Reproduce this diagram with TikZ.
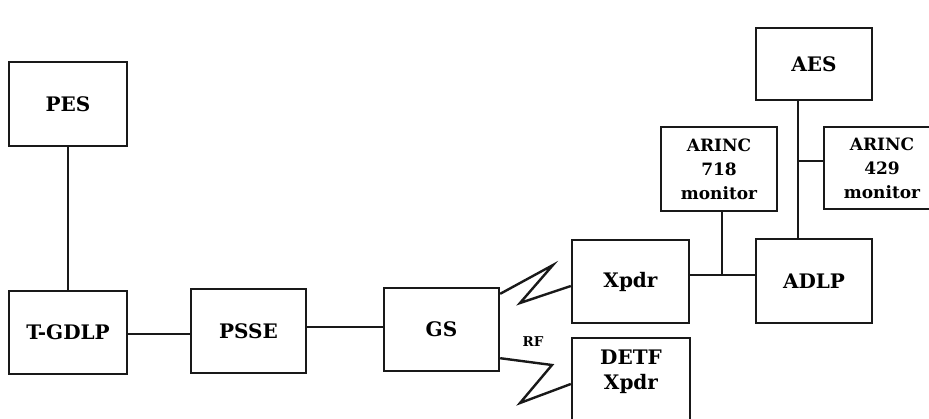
\documentclass[tikz,border=0pt]{standalone}
\usepackage{fontspec}
\setmainfont{DejaVu Serif}
\usetikzlibrary{calc}
\begin{document}
\begin{tikzpicture}[x=1pt,y=-1pt,
  box/.style={draw=black!90, line width=2.4pt, fill=white, inner sep=0pt, align=center, font=\bfseries\fontsize{20}{24}\selectfont},
  smallbox/.style={box, font=\bfseries\fontsize{17}{24}\selectfont},
  lbl/.style={inner sep=0pt, align=center, font=\bfseries\fontsize{20}{25}\selectfont},
  wire/.style={draw=black!90, line width=2.4pt, line join=miter}]
\useasboundingbox (0,0) rectangle (929,418);
\clip (0,0) rectangle (929,418);
\fill[white] (0,0) rectangle (929,418);
\node[box, minimum width=118pt, minimum height=84pt] (pes) at (68,104) {PES};
\node[box, minimum width=118pt, minimum height=83pt] (tgdlp) at (68,332.5) {T-GDLP};
\node[box, minimum width=115pt, minimum height=84pt] (psse) at (248.5,331) {PSSE};
\node[box, minimum width=115pt, minimum height=83pt] (gs) at (441.5,329.5) {GS};
\node[box, minimum width=117pt, minimum height=83pt] (xpdr) at (630.5,281.5) {Xpdr};
\node[box, minimum width=118pt, minimum height=92pt] (detf) at (631,384) {};
\node[lbl] (detftxt) at (631,372) {DETF\\Xpdr};
\node[box, minimum width=116pt, minimum height=72pt] (aes) at (814,64) {AES};
\node[smallbox, minimum width=116pt, minimum height=84pt] (a718) at (719,169) {ARINC\\718\\monitor};
\node[smallbox, minimum width=116pt, minimum height=82pt] (a429) at (882,168) {ARINC\\429\\monitor};
\node[box, minimum width=116pt, minimum height=84pt] (adlp) at (814,281) {ADLP};
\node[inner sep=0pt, font=\bfseries\fontsize{13.5}{16}\selectfont] (rf) at (533,342) {RF};
% connectors
\draw[wire] (pes.south) -- (tgdlp.north);
\draw[wire] ($(tgdlp.east)+(0,1.5)$) -- ($(psse.west)+(0,3)$);
\draw[wire] ($(psse.east)+(0,-4)$) -- ($(gs.west)+(0,-2.5)$);
\coordinate (j1) at (722,275);
\draw[wire] (xpdr.east |- j1) -- (adlp.west |- j1);
\draw[wire] (a718.south -| j1) -- (j1);
\draw[wire] ([xshift=-16pt]aes.south) -- ([xshift=-16pt]adlp.north);
\coordinate (j2) at (798,161);
\draw[wire] (j2) -- (a429.west |- j2);
% RF zigzags
\draw[wire] ($(gs.north east)+(0,7)$) -- (553,265) -- (520,303) -- ($(xpdr.west)+(0,4.5)$);
\draw[wire] ($(gs.south east)+(0,-14)$) -- (552,365) -- (520,403) -- (detf.west);
\end{tikzpicture}
\end{document}
